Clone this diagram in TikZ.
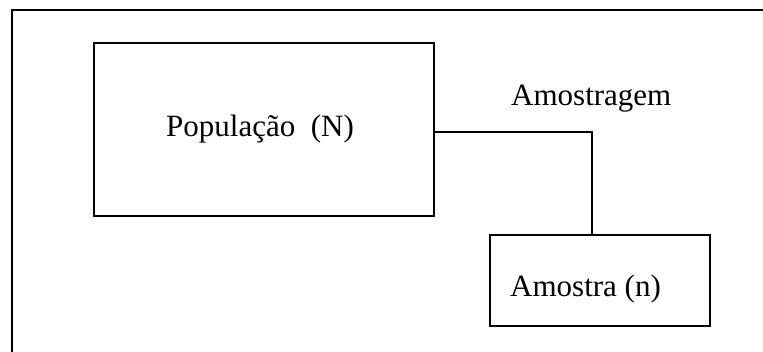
\documentclass[tikz,border=0pt]{standalone}
\usepackage{fontspec}
\setmainfont{Liberation Serif}
\begin{document}
\begin{tikzpicture}[x=1pt,y=-1pt,
  boxstyle/.style={draw,line width=1.5pt,rectangle,inner sep=0pt},
  labelstyle/.style={anchor=base west,inner sep=0pt,font=\fontsize{31}{36}\selectfont},
  wire/.style={line width=1.5pt}]
\useasboundingbox (0,0) rectangle (763,352);
\clip (0,0) rectangle (763,352);
\draw[line width=1.5pt] (12,10) rectangle (800,400);
\node[boxstyle,minimum width=340pt,minimum height=173pt] (pop) at (264,129.5) {};
\node[boxstyle,minimum width=220pt,minimum height=91pt] (amo) at (600,280.5) {};
\node[labelstyle] (poptxt) at (166,137) {População\ \ (N)};
\node[labelstyle] (amotxt) at (510,297) {Amostra (n)};
\node[labelstyle] (amgtxt) at (511,106) {Amostragem};
\draw[wire] ([yshift=-2.5pt]pop.east) -| ([xshift=-8pt]amo.north);
\end{tikzpicture}
\end{document}
